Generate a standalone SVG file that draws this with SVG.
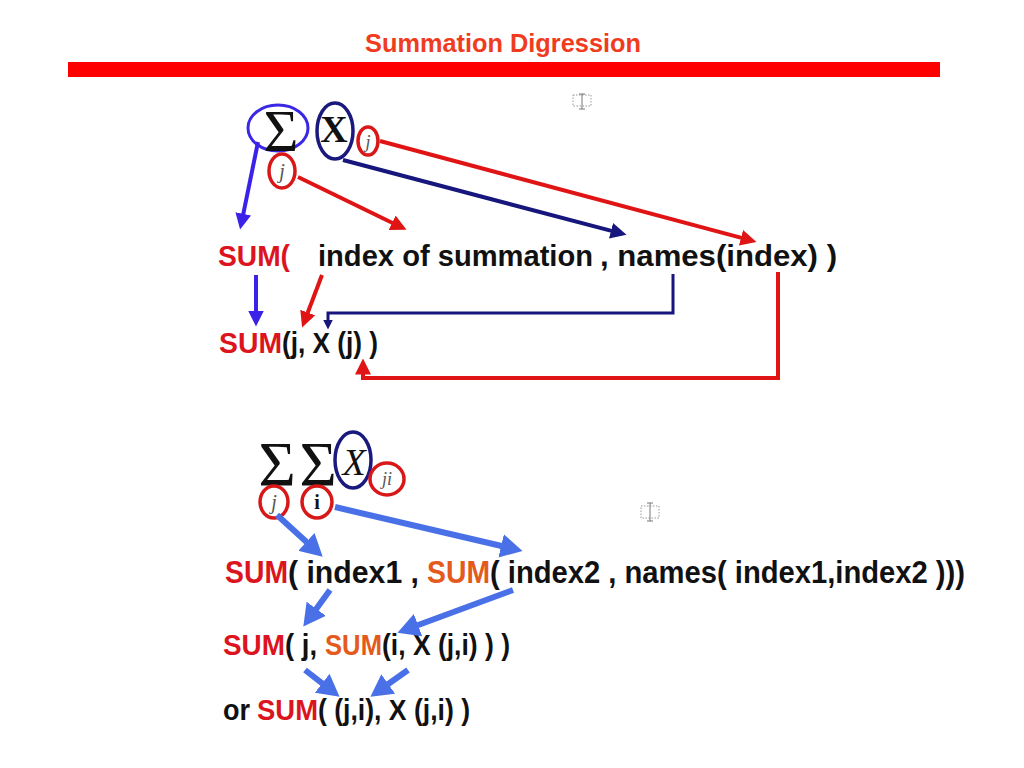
<svg xmlns="http://www.w3.org/2000/svg" width="1024" height="768" viewBox="0 0 1024 768">
<style>
.t{font-family:"Liberation Sans",Arial,sans-serif;font-weight:bold;fill:#111}
.r{fill:#dc1420}
.o{fill:#e45a1c}
.m{font-family:"Liberation Serif","Times New Roman",serif;fill:#111}
.jj{font-family:"Liberation Serif","Times New Roman",serif;font-style:italic;fill:#555}
.er{fill:none;stroke:#d81818;stroke-width:3.5}
.en{fill:none;stroke:#1a1a7e;stroke-width:3.5}
.eb{fill:none;stroke:#3a28e6;stroke-width:3}
.ar{fill:none;stroke:#e01414;stroke-width:4}
.an{fill:none;stroke:#16167c;stroke-width:4}
.ab{fill:none;stroke:#3a22e8;stroke-width:4}
.ac{fill:none;stroke:#4a70e8;stroke-width:6}
.ic{fill:none;stroke:#999;stroke-width:1;stroke-dasharray:1.5 1.5}
</style>
<defs>
<marker id="hr" viewBox="0 0 16 16" refX="0.5" refY="8" markerWidth="16" markerHeight="16" markerUnits="userSpaceOnUse" orient="auto"><path d="M0,0 L16,8 L0,16 z" fill="#e01414"/></marker>
<marker id="hn" viewBox="0 0 16 16" refX="0.5" refY="8" markerWidth="16" markerHeight="16" markerUnits="userSpaceOnUse" orient="auto"><path d="M0,0 L16,8 L0,16 z" fill="#16167c"/></marker>
<marker id="hns" viewBox="0 0 10 10" refX="0.5" refY="5" markerWidth="10" markerHeight="10" markerUnits="userSpaceOnUse" orient="auto"><path d="M0,0 L10,5 L0,10 z" fill="#16167c"/></marker>
<marker id="hb" viewBox="0 0 16 16" refX="0.5" refY="8" markerWidth="16" markerHeight="16" markerUnits="userSpaceOnUse" orient="auto"><path d="M0,0 L16,8 L0,16 z" fill="#3a22e8"/></marker>
<marker id="hc" viewBox="0 0 22 24" refX="0.5" refY="12" markerWidth="22" markerHeight="24" markerUnits="userSpaceOnUse" orient="auto"><path d="M0,0 L22,12 L0,24 z" fill="#4a70e8"/></marker>
</defs>

<g id="title">
<text x="365" y="52" class="t" style="fill:#f03c1e" font-size="26" textLength="276" lengthAdjust="spacingAndGlyphs">Summation Digression</text>
<rect x="68" y="62" width="872" height="15" fill="#ff0000"/>
</g>

<g id="icon1">
<rect x="573" y="95" width="18" height="11" class="ic"/>
<path d="M582,94 V109 M579,94 H585 M579,109 H585" stroke="#777" stroke-width="1" fill="none"/>
</g>
<g id="icon2">
<rect x="641" y="506" width="18" height="12" class="ic"/>
<path d="M650,503 V521 M647,503 H653 M647,521 H653" stroke="#777" stroke-width="1" fill="none"/>
</g>

<g id="formula1">
<ellipse cx="278" cy="128" rx="30" ry="23" class="eb"/>
<text x="281" y="151" class="m" font-size="60" text-anchor="middle">Σ</text>
<ellipse cx="335" cy="131" rx="18" ry="28" class="en"/>
<text x="334" y="142" class="m" font-size="38" font-weight="bold" text-anchor="middle">X</text>
<ellipse cx="368" cy="141" rx="10" ry="14" class="er"/>
<text x="368" y="148" class="jj" font-size="18" text-anchor="middle">j</text>
<ellipse cx="282" cy="171" rx="13" ry="17" class="er"/>
<text x="282" y="178" class="jj" font-size="20" text-anchor="middle">j</text>
</g>

<g id="row1">
<text x="218" y="266" class="t r" font-size="30" textLength="72" lengthAdjust="spacingAndGlyphs">SUM(</text>
<text x="318" y="266" class="t" font-size="30" textLength="275" lengthAdjust="spacingAndGlyphs">index of summation</text>
<text x="600" y="266" class="t" font-size="30" textLength="237" lengthAdjust="spacingAndGlyphs">, names(index) )</text>
</g>

<g id="row2">
<text x="219" y="353" class="t r" font-size="29" textLength="63" lengthAdjust="spacingAndGlyphs">SUM</text>
<text x="282" y="353" class="t" font-size="29" textLength="96" lengthAdjust="spacingAndGlyphs">(j, X (j) )</text>
</g>

<g id="formula2">
<text x="277" y="486" class="m" font-size="64" text-anchor="middle">Σ</text>
<text x="318" y="486" class="m" font-size="64" text-anchor="middle">Σ</text>
<ellipse cx="353" cy="460" rx="18" ry="28" class="en"/>
<text x="354" y="475" class="m" font-size="38" font-style="italic" text-anchor="middle">X</text>
<ellipse cx="387" cy="479" rx="17" ry="16" class="er"/>
<text x="387" y="485" class="jj" font-size="18" text-anchor="middle">ji</text>
<ellipse cx="274" cy="502" rx="14" ry="16" class="er"/>
<text x="274" y="509" class="jj" font-size="20" text-anchor="middle">j</text>
<ellipse cx="317" cy="502" rx="15" ry="16" class="er"/>
<text x="317" y="509" class="m" font-size="20" font-weight="bold" text-anchor="middle">i</text>
</g>

<g id="row3">
<text x="225" y="583" class="t r" font-size="31" textLength="63" lengthAdjust="spacingAndGlyphs">SUM</text>
<text x="288" y="583" class="t" font-size="31" textLength="131" lengthAdjust="spacingAndGlyphs">( index1 ,</text>
<text x="427" y="583" class="t o" font-size="31" textLength="63" lengthAdjust="spacingAndGlyphs">SUM</text>
<text x="490" y="583" class="t" font-size="31" textLength="475" lengthAdjust="spacingAndGlyphs">( index2 , names( index1,index2 )))</text>
</g>

<g id="row4">
<text x="223" y="655" class="t r" font-size="30" textLength="62" lengthAdjust="spacingAndGlyphs">SUM</text>
<text x="285" y="655" class="t" font-size="30" textLength="32" lengthAdjust="spacingAndGlyphs">( j,</text>
<text x="325" y="655" class="t o" font-size="30" textLength="57" lengthAdjust="spacingAndGlyphs">SUM</text>
<text x="382" y="655" class="t" font-size="30" textLength="128" lengthAdjust="spacingAndGlyphs">(i, X (j,i) ) )</text>
</g>

<g id="row5">
<text x="223" y="720" class="t" font-size="30" textLength="27" lengthAdjust="spacingAndGlyphs">or</text>
<text x="257" y="720" class="t r" font-size="30" textLength="61" lengthAdjust="spacingAndGlyphs">SUM</text>
<text x="318" y="720" class="t" font-size="30" textLength="152" lengthAdjust="spacingAndGlyphs">( (j,i), X (j,i) )</text>
</g>

<g id="connectors">
<path d="M258,142 L243.2,214.3" class="ab" marker-end="url(#hb)"/>
<path d="M298,177 L392.6,223" class="ar" marker-end="url(#hr)"/>
<path d="M343,160 L611.5,230.9" class="an" marker-end="url(#hn)"/>
<path d="M380,141 L741.5,237.9" class="ar" marker-end="url(#hr)"/>
<path d="M256,275 L256,311" class="ab" marker-end="url(#hb)"/>
<path d="M322,275 L307.6,313" class="ar" marker-end="url(#hr)"/>
<path d="M673,274 L673,313 L328,313 L328,320" class="an" style="stroke-width:3" marker-end="url(#hns)"/>
<path d="M778,272 L778,378 L363,378 L363,374" class="ar" marker-end="url(#hr)"/>
<path d="M277,515 L306.8,542.2" class="ac" marker-end="url(#hc)"/>
<path d="M335,507 L501.6,546" class="ac" marker-end="url(#hc)"/>
<path d="M330,590 L316,609.2" class="ac" marker-end="url(#hc)"/>
<path d="M513,590 L417.6,625.3" class="ac" marker-end="url(#hc)"/>
<path d="M305,670 L322.6,683.6" class="ac" marker-end="url(#hc)"/>
<path d="M408,670 L387.9,684.3" class="ac" marker-end="url(#hc)"/>
</g>
</svg>
